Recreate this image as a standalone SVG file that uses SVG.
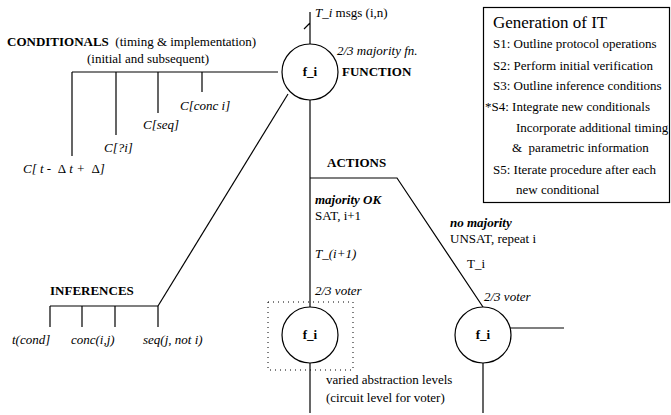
<svg xmlns="http://www.w3.org/2000/svg" width="671" height="415" viewBox="0 0 671 415">
<style>
text{font-family:"Liberation Serif","Times New Roman",serif;font-size:13px;fill:#000;white-space:pre}
.b{font-weight:bold}
.i{font-style:italic}
.bi{font-weight:bold;font-style:italic}
.c{text-anchor:middle}
.ln{stroke:#000;stroke-width:1.2;fill:none}
.nd{stroke:#000;stroke-width:1.2;fill:#fff}
.dot{stroke:#000;stroke-width:1;fill:none;stroke-dasharray:1 4}
</style>
<rect width="671" height="415" fill="#fff"/>
<g id="connectors">
<path class="ln" d="M310 12V44M304 29L310 23"/>
<path class="ln" d="M72 72H278M72 72V156M116 72V135M158 72V113M202 72V92"/>
<path class="ln" d="M288 94L158 306"/>
<path class="ln" d="M50 306H158M50 306V327M82 306V327M115 306V327M158 306V327"/>
<path class="ln" d="M310 100V307"/>
<path class="ln" d="M310 178H397L483 307"/>
<path class="ln" d="M310 363V413"/>
<path class="ln" d="M510 328H564M483 363V413"/>
</g>
<g id="node-function">
<circle class="nd" cx="310" cy="72" r="28"/>
<text class="b c" x="310" y="76">f_i</text>
<text x="315" y="17"><tspan class="i">T_i</tspan> msgs (i,n)</text>
<text class="i" x="337" y="55">2/3 majority fn.</text>
<text class="b" x="342" y="76">FUNCTION</text>
</g>
<g id="node-conditionals">
<text x="7" y="46"><tspan class="b">CONDITIONALS</tspan>  (timing &amp; implementation)</text>
<text x="87" y="63">(initial and subsequent)</text>
<text class="i" x="180" y="110">C[conc i]</text>
<text class="i" x="143" y="129">C[seq]</text>
<text class="i" x="104" y="152">C[?i]</text>
<text class="i" x="23" y="173">C[ t -  <tspan font-style="normal">Δ</tspan> t +  <tspan font-style="normal">Δ</tspan>]</text>
</g>
<g id="node-inferences">
<text class="b" x="50" y="295">INFERENCES</text>
<text class="i" x="12" y="344">t(cond]</text>
<text class="i" x="71" y="344">conc(i,j)</text>
<text class="i" x="143" y="344">seq(j, not i)</text>
</g>
<g id="node-actions">
<text class="b" x="327" y="167">ACTIONS</text>
<text class="bi" x="315" y="204">majority OK</text>
<text x="315" y="220">SAT, i+1</text>
<text class="i" x="315" y="258">T_(i+1)</text>
<text class="bi" x="450" y="227">no majority</text>
<text x="450" y="243">UNSAT, repeat i</text>
<text x="467" y="268">T_i</text>
</g>
<g id="node-voter-left">
<rect class="dot" x="268" y="302" width="85" height="68"/>
<circle class="nd" cx="310" cy="335" r="28"/>
<text class="b c" x="310" y="339">f_i</text>
<text class="i" x="315" y="295">2/3 voter</text>
<text x="326" y="384">varied abstraction levels</text>
<text x="326" y="402">(circuit level for voter)</text>
</g>
<g id="node-voter-right">
<circle class="nd" cx="483" cy="335" r="28"/>
<text class="b c" x="483" y="339">f_i</text>
<text class="i" x="484" y="301">2/3 voter</text>
</g>
<g id="node-legend">
<rect class="ln" x="483.5" y="7.5" width="186" height="195"/>
<text x="493" y="28" style="font-size:17px">Generation of IT</text>
<text x="493" y="48">S1: Outline protocol operations</text>
<text x="493" y="70">S2: Perform initial verification</text>
<text x="493" y="90">S3: Outline inference conditions</text>
<text x="485" y="111">*S4: Integrate new conditionals</text>
<text x="516" y="132">Incorporate additional timing</text>
<text x="512" y="152">&amp;  parametric information</text>
<text x="493" y="174">S5: Iterate procedure after each</text>
<text x="516" y="194">new conditional</text>
</g>
</svg>
